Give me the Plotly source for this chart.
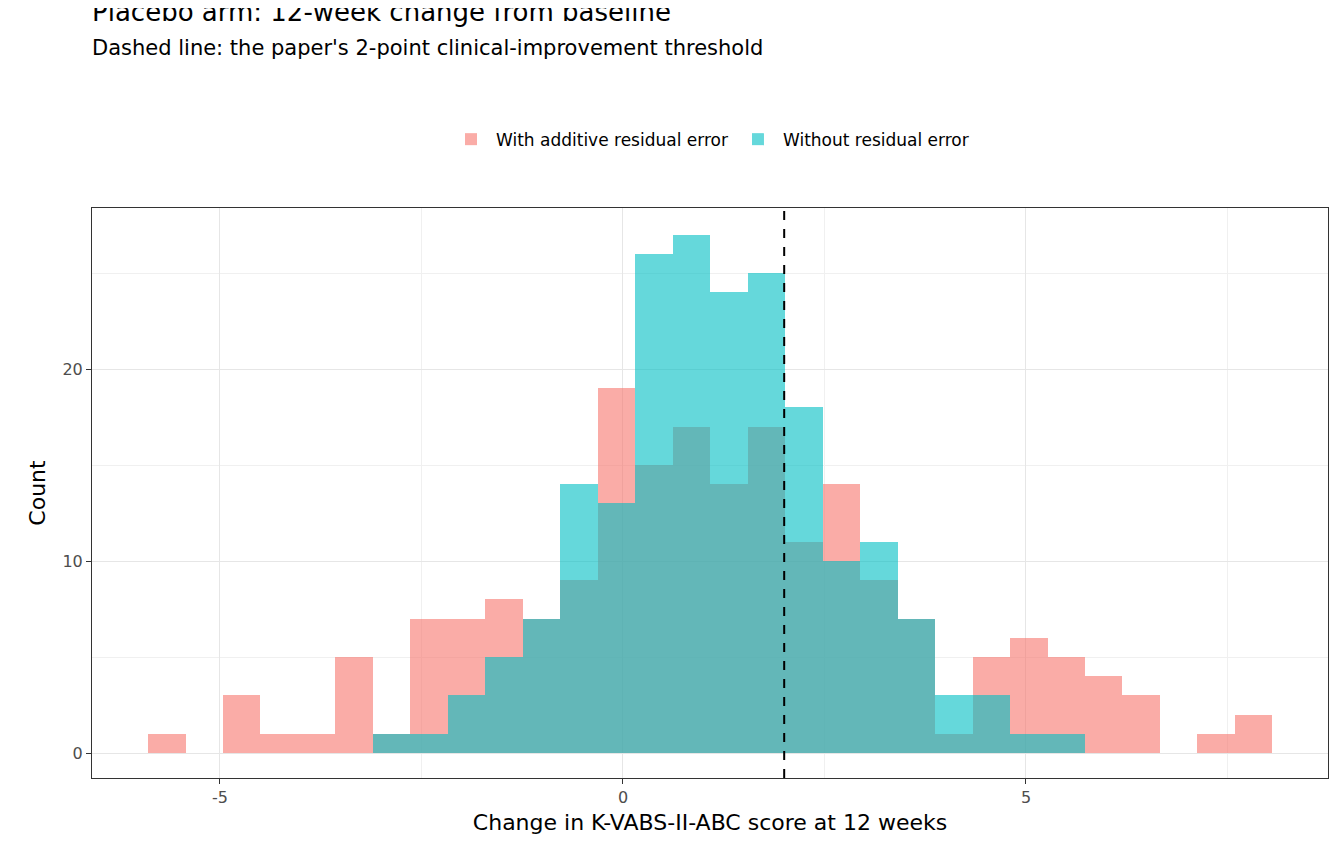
import plotly.graph_objects as go

# histogram bins (30 bins)
bin_start = -5.893
bin_width = 0.465
with_resid = [1, 0, 3, 1, 1, 5, 1, 7, 7, 8, 7, 9, 19, 15, 17, 14, 17, 11, 14, 9,
              7, 1, 5, 6, 5, 4, 3, 0, 1, 2]
without_resid = [0, 0, 0, 0, 0, 0, 1, 1, 3, 5, 7, 14, 13, 26, 27, 24, 25, 18, 10, 11,
                 7, 3, 3, 1, 1, 0, 0, 0, 0, 0]
threshold = 2
x_ticks = [-5, 0, 5]
x_labels = ["-5", "0", "5"]
y_ticks = [0, 10, 20]

centers = [bin_start + bin_width * (i + 0.5) for i in range(len(with_resid))]

fig = go.Figure()
fig.add_trace(go.Bar(x=centers, y=with_resid, width=bin_width, name="With additive residual error",
                     marker=dict(color="#F8766D", line_width=0), opacity=0.6))
fig.add_trace(go.Bar(x=centers, y=without_resid, width=bin_width, name="Without residual error",
                     marker=dict(color="#00BFC4", line_width=0), opacity=0.6))

fig.add_vline(x=threshold, line=dict(color="black", dash="dash", width=2))

fig.update_layout(
    barmode="overlay", bargap=0,
    width=1344, height=864,
    plot_bgcolor="white", paper_bgcolor="white",
    font=dict(family="DejaVu Sans", color="black"),
    margin=dict(l=84, r=24, t=200, b=94),
    title=dict(text="Placebo arm: 12-week change from baseline<br><span style='font-size:21px'>Dashed line: the paper's 2-point clinical-improvement threshold</span>",
               x=84/1344, xanchor="left", y=0.985, yanchor="top", font=dict(size=26)),
    legend=dict(orientation="h", x=0.5, xanchor="center", y=1.12, yanchor="middle",
                font=dict(size=17), itemwidth=40),
)
fig.update_xaxes(range=[-6.588, 8.747], tickvals=x_ticks, ticktext=x_labels, showline=True, mirror=True,
                 linecolor="#333333", gridcolor="#E6E6E6", zeroline=False,
                 tickfont=dict(size=16, color="#4D4D4D"), ticks="outside", tickcolor="#333333",
                 minor=dict(showgrid=True, gridcolor="#F0F0F0", tickvals=[-2.5, 2.5, 7.5]),
                 title=dict(text="Change in K-VABS-II-ABC score at 12 weeks", font=dict(size=22), standoff=8))
fig.update_yaxes(range=[-1.3, 28.39], tickvals=y_ticks, showline=True, mirror=True,
                 linecolor="#333333", gridcolor="#E6E6E6", zeroline=False,
                 tickfont=dict(size=16, color="#4D4D4D"), ticks="outside", tickcolor="#333333",
                 minor=dict(showgrid=True, gridcolor="#F0F0F0", tickvals=[5, 15, 25]),
                 title=dict(text="Count", font=dict(size=22), standoff=10))

fig.write_html("out.html")
